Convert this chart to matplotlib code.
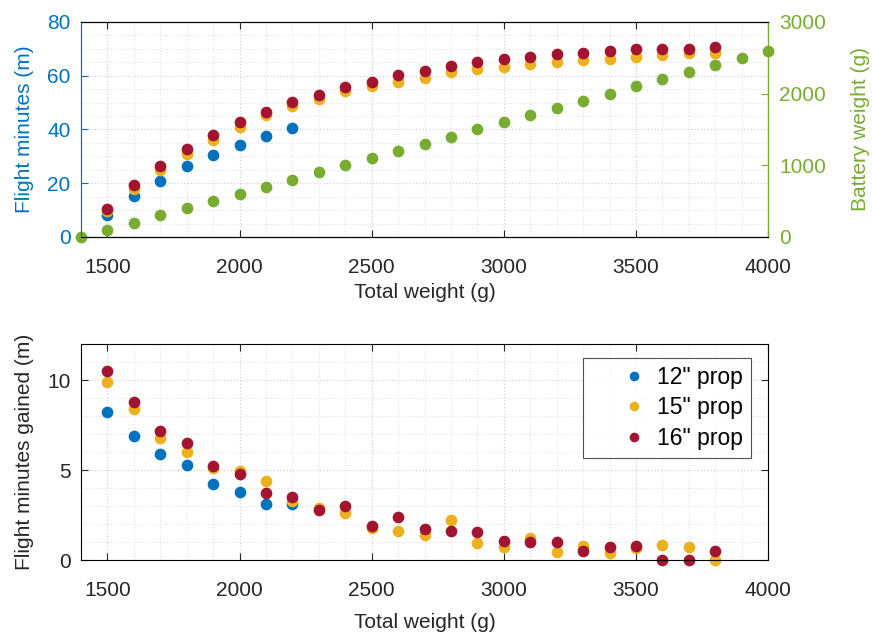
import numpy as np
import matplotlib
matplotlib.use("Agg")
import matplotlib.pyplot as plt
from matplotlib.ticker import MultipleLocator

plt.rcParams['font.family'] = ['Liberation Sans', 'DejaVu Sans']

# -----------------------------------------------------------
# Data
# -----------------------------------------------------------
weight_12 = list(range(1500, 2300, 100))
weight_long = list(range(1500, 3900, 100))
weight_batt = list(range(1400, 4100, 100))

minutes_12 = [8.2, 15.1, 21.0, 26.3, 30.6, 34.4, 37.5, 40.6]
minutes_15 = [9.8, 18.0, 24.8, 31.0, 36.1, 41.0, 45.3, 48.7, 51.5, 54.3, 56.1, 57.7,
              59.2, 61.4, 62.4, 63.3, 64.5, 65.0, 65.8, 66.2, 66.9, 67.7, 68.4, 68.4]
minutes_16 = [10.4, 19.2, 26.4, 32.9, 38.1, 42.9, 46.6, 50.1, 52.9, 55.9, 57.8, 60.2,
              61.9, 63.5, 65.1, 66.1, 67.1, 68.1, 68.6, 69.3, 70.1, 70.1, 70.1, 70.6]
battery = [0, 100, 200, 300, 400, 500, 600, 700, 800, 900, 1000, 1100, 1200, 1300,
           1400, 1500, 1600, 1700, 1800, 1900, 2000, 2100, 2200, 2300, 2400, 2500, 2600]

gain_12 = [8.2, 6.9, 5.9, 5.3, 4.2, 3.8, 3.1, 3.1]
gain_15 = [9.9, 8.4, 6.8, 6.0, 5.1, 4.95, 4.4, 3.3, 2.9, 2.6, 1.8, 1.6,
           1.4, 2.2, 0.95, 0.75, 1.2, 0.45, 0.8, 0.4, 0.65, 0.85, 0.7, 0.0]
gain_16 = [10.5, 8.8, 7.15, 6.5, 5.25, 4.8, 3.7, 3.5, 2.8, 3.0, 1.9, 2.4,
           1.7, 1.6, 1.55, 1.05, 1.0, 1.0, 0.5, 0.7, 0.8, 0.0, 0.0, 0.5]

labels = ['12" prop', '15" prop', '16" prop']

# MATLAB default colours
c_blue = '#0072BD'
c_yellow = '#EDB120'
c_red = '#A2142F'
c_green = '#77AC30'
c_text = '#262626'

fs = 15
ms = 7.4


def style_grid(ax):
    ax.grid(True, which='major', color='#d4d4d4', linestyle=':', linewidth=0.9)
    ax.grid(True, which='minor', color='#e4e4e4', linestyle=':', linewidth=0.8)
    ax.tick_params(which='minor', length=0)
    ax.tick_params(which='major', direction='in', length=5, labelsize=fs,
                   top=True, width=0.8)
    ax.tick_params(axis='x', pad=15)
    ax.tick_params(axis='y', pad=7.5)
    ax.set_axisbelow(True)


fig = plt.figure(figsize=(8.72, 6.35), dpi=100)

# -----------------------------------------------------------
# Top panel: flight minutes + battery weight
# -----------------------------------------------------------
ax1 = fig.add_axes([0.0929, 0.6268, 0.788, 0.3386])
ax1.plot(weight_12, minutes_12, 'o', color=c_blue, ms=ms, clip_on=False)
ax1.plot(weight_long, minutes_15, 'o', color=c_yellow, ms=ms, clip_on=False)
ax1.plot(weight_long, minutes_16, 'o', color=c_red, ms=ms, clip_on=False)
ax1.set_xlim(1400, 4000)
ax1.set_ylim(0, 80)
ax1.xaxis.set_major_locator(MultipleLocator(500))
ax1.xaxis.set_minor_locator(MultipleLocator(100))
ax1.yaxis.set_major_locator(MultipleLocator(20))
ax1.yaxis.set_minor_locator(MultipleLocator(5))
style_grid(ax1)
ax1.tick_params(axis='y', colors=c_blue)
ax1.tick_params(axis='x', colors=c_text)
ax1.spines['left'].set_color(c_blue)
ax1.set_ylabel('Flight minutes (m)', color=c_blue, fontsize=fs)
ax1.yaxis.set_label_coords(-0.068, 0.5)
ax1.set_xlabel('Total weight (g)', fontsize=fs, color=c_text)
ax1.xaxis.set_label_coords(0.5, -0.214)

ax2 = ax1.twinx()
ax2.plot(weight_batt, battery, 'o', color=c_green, ms=ms, clip_on=False)
ax2.set_ylim(0, 3000)
ax2.yaxis.set_major_locator(MultipleLocator(1000))
ax2.tick_params(axis='y', colors=c_green, direction='in', length=5,
                labelsize=fs, pad=8)
ax2.spines['right'].set_color(c_green)
ax2.spines['left'].set_color(c_blue)
ax2.set_ylabel('Battery weight (g)', color=c_green, fontsize=fs)
ax2.yaxis.set_label_coords(1.12, 0.5)

# -----------------------------------------------------------
# Bottom panel: flight minutes gained
# -----------------------------------------------------------
ax3 = fig.add_axes([0.0929, 0.1181, 0.788, 0.340])
ax3.plot(weight_12, gain_12, 'o', color=c_blue, ms=ms, clip_on=False, label=labels[0])
ax3.plot(weight_long, gain_15, 'o', color=c_yellow, ms=ms, clip_on=False, label=labels[1])
ax3.plot(weight_long, gain_16, 'o', color=c_red, ms=ms, clip_on=False, label=labels[2])
ax3.set_xlim(1400, 4000)
ax3.set_ylim(0, 12)
ax3.xaxis.set_major_locator(MultipleLocator(500))
ax3.xaxis.set_minor_locator(MultipleLocator(100))
ax3.yaxis.set_major_locator(MultipleLocator(5))
ax3.yaxis.set_minor_locator(MultipleLocator(1))
style_grid(ax3)
ax3.tick_params(right=True, colors=c_text)
ax3.set_ylabel('Flight minutes gained (m)', fontsize=fs, color=c_text)
ax3.yaxis.set_label_coords(-0.068, 0.5)
ax3.set_xlabel('Total weight (g)', fontsize=fs, color=c_text)
ax3.xaxis.set_label_coords(0.5, -0.245)

leg = ax3.legend(loc='upper right', bbox_to_anchor=(0.975, 0.935),
                 borderaxespad=0, fontsize=16.5, frameon=True, fancybox=False,
                 edgecolor=c_text, markerscale=0.8, handlelength=3.75,
                 handletextpad=-0.85, borderpad=0.33, labelspacing=0.34)
leg.get_frame().set_linewidth(0.8)

plt.savefig('out.png', dpi=100)
